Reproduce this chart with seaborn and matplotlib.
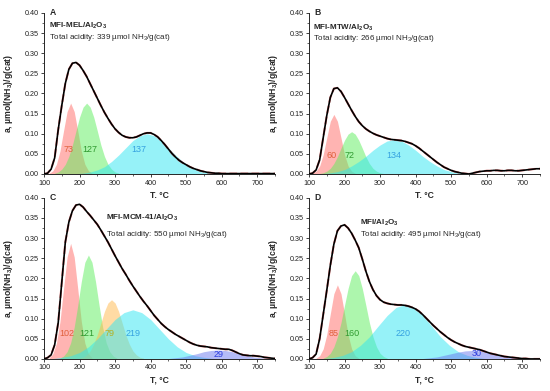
import numpy as np
import pandas as pd
import matplotlib
matplotlib.use('Agg')
import matplotlib.pyplot as plt
from matplotlib.ticker import AutoMinorLocator, FormatStrFormatter
import seaborn as sns

sns.set_style('ticks')
plt.rcParams['font.family'] = ['Liberation Sans', 'DejaVu Sans']
plt.rcParams['mathtext.fontset'] = 'custom'
plt.rcParams['mathtext.rm'] = 'Liberation Sans'
plt.rcParams['mathtext.bf'] = 'Liberation Sans:bold'

# temperature grid of the measured (total) curves, deg C
temps = list(range(100, 760, 10))

# ---- A: MFI-MEL/Al2O3
a_total = [0.000, 0.002, 0.012, 0.040, 0.110, 0.170, 0.225, 0.260, 0.275, 0.277,
           0.270, 0.257, 0.242, 0.224, 0.206, 0.188, 0.170, 0.153, 0.138, 0.124,
           0.112, 0.103, 0.096, 0.092, 0.090, 0.090, 0.092, 0.096, 0.100, 0.102,
           0.102, 0.098, 0.092, 0.083, 0.073, 0.062, 0.051, 0.042, 0.034, 0.028,
           0.023, 0.018, 0.014, 0.011, 0.008, 0.006, 0.004, 0.003, 0.002, 0.002,
           0.001, 0.001, 0.001, 0.001, 0.001, 0.001, 0.001, 0.001, 0.001, 0.001,
           0.001, 0.001, 0.001, 0.001, 0.001, 0.001]
a_p1_t = list(range(115, 245, 10))
a_p1 = [.002, .008, .024, .057, .107, .155, .176, .155, .107, .057, .024, .008, .002]
a_p2_t = list(range(130, 320, 10))
a_p2 = [.002, .005, .012, .024, .044, .072, .107, .141, .166, .176, .166, .141, .107,
        .072, .044, .024, .012, .005, .002]
a_p3_t = list(range(190, 600, 20))
a_p3 = [.001, .002, .005, .010, .018, .031, .047, .065, .083, .095, .100, .095, .083,
        .065, .047, .031, .018, .010, .005, .002, .001]
a_areas = [73, 127, 137]

# ---- B: MFI-MTW/Al2O3
b_total = [0.000, 0.002, 0.010, 0.035, 0.090, 0.145, 0.190, 0.212, 0.214, 0.205,
           0.190, 0.174, 0.158, 0.143, 0.130, 0.120, 0.112, 0.106, 0.101, 0.097,
           0.094, 0.091, 0.088, 0.086, 0.085, 0.084, 0.083, 0.081, 0.078, 0.075,
           0.070, 0.064, 0.057, 0.050, 0.043, 0.036, 0.029, 0.023, 0.017, 0.013,
           0.009, 0.006, 0.004, 0.002, 0.001, 0.000, 0.002, 0.004, 0.006, 0.007,
           0.008, 0.008, 0.009, 0.009, 0.008, 0.008, 0.009, 0.009, 0.008, 0.008,
           0.009, 0.010, 0.011, 0.012, 0.013, 0.013]
b_p1_t = list(range(110, 240, 10))
b_p1 = [.002, .007, .020, .048, .090, .131, .148, .131, .090, .048, .020, .007, .002]
b_p2_t = list(range(130, 320, 10))
b_p2 = [.001, .003, .007, .014, .026, .043, .064, .084, .099, .105, .099, .084, .064,
        .043, .026, .014, .007, .003, .001]
b_p3_t = list(range(120, 580, 20))
b_p3 = [.001, .001, .003, .006, .011, .020, .031, .044, .059, .072, .082, .085, .082,
        .072, .059, .044, .031, .020, .011, .006, .003, .001, .001]
b_areas = [60, 72, 134]

# ---- C: MFI-MCM-41/Al2O3
c_total = [0.000, 0.003, 0.010, 0.035, 0.090, 0.190, 0.290, 0.340, 0.368, 0.382,
           0.384, 0.377, 0.366, 0.356, 0.345, 0.334, 0.320, 0.305, 0.290, 0.273,
           0.256, 0.240, 0.224, 0.210, 0.195, 0.181, 0.168, 0.155, 0.143, 0.132,
           0.120, 0.108, 0.098, 0.088, 0.080, 0.073, 0.067, 0.061, 0.056, 0.051,
           0.046, 0.041, 0.037, 0.034, 0.032, 0.031, 0.030, 0.028, 0.027, 0.026,
           0.025, 0.024, 0.024, 0.021, 0.017, 0.013, 0.010, 0.009, 0.008, 0.008,
           0.007, 0.006, 0.004, 0.003, 0.002, 0.001]
c_p1_t = list(range(115, 245, 10))
c_p1 = [.003, .013, .039, .093, .174, .253, .287, .253, .174, .093, .039, .013, .003]
c_p2_t = list(range(145, 315, 10))
c_p2 = [.002, .007, .018, .040, .079, .133, .192, .240, .258, .240, .192, .133, .079,
        .040, .018, .007, .002]
c_p3_t = list(range(200, 390, 10))
c_p3 = [.002, .004, .010, .020, .037, .060, .089, .118, .139, .147, .139, .118, .089,
        .060, .037, .020, .010, .004, .002]
c_p4_t = list(range(125, 600, 25))
c_p4 = [.001, .004, .008, .016, .030, .050, .074, .098, .115, .122, .115, .098, .074,
        .050, .030, .016, .008, .004, .001]
c_p5_t = list(range(410, 770, 20))
c_p5 = [.000, .001, .001, .003, .005, .009, .013, .018, .021, .022, .021, .018, .013,
        .009, .005, .003, .001, .000]
c_areas = [102, 121, 79, 219, 29]

# ---- D: MFI/Al2O3
d_total = [0.000, 0.003, 0.012, 0.050, 0.110, 0.170, 0.232, 0.285, 0.318, 0.330,
           0.333, 0.325, 0.312, 0.295, 0.276, 0.248, 0.218, 0.192, 0.172, 0.157,
           0.147, 0.141, 0.138, 0.136, 0.135, 0.134, 0.134, 0.133, 0.131, 0.128,
           0.124, 0.118, 0.110, 0.101, 0.092, 0.083, 0.075, 0.067, 0.060, 0.053,
           0.047, 0.042, 0.038, 0.034, 0.031, 0.029, 0.027, 0.025, 0.023, 0.020,
           0.017, 0.014, 0.012, 0.010, 0.008, 0.006, 0.005, 0.004, 0.003, 0.002,
           0.001, 0.001, 0.000, 0.000, 0.000, 0.000]
d_p1_t = list(range(120, 250, 10))
d_p1 = [.002, .008, .025, .060, .112, .162, .184, .162, .112, .060, .025, .008, .002]
d_p2_t = list(range(140, 330, 10))
d_p2 = [.002, .006, .014, .030, .055, .090, .133, .175, .207, .219, .207, .175, .133,
        .090, .055, .030, .014, .006, .002]
d_p3_t = list(range(145, 620, 25))
d_p3 = [.001, .004, .009, .018, .034, .055, .082, .108, .128, .135, .128, .108, .082,
        .055, .034, .018, .009, .004, .001]
d_p4_t = list(range(380, 760, 20))
d_p4 = [.000, .001, .001, .003, .005, .009, .013, .017, .020, .021, .020, .017, .013,
        .009, .005, .003, .001, .001, .000]
d_areas = [85, 160, 220, 30]

names = [r"MFI-MEL/Al$_\mathbf{2}$O$_\mathbf{3}$", r"MFI-MTW/Al$_\mathbf{2}$O$_\mathbf{3}$",
         r"MFI-MCM-41/Al$_\mathbf{2}$O$_\mathbf{3}$", r"MFI/Al$_\mathbf{2}$O$_\mathbf{3}$"]
acidity = [339, 266, 550, 495]
letters = ['A', 'B', 'C', 'D']

fill = {'r': '#ff6a66', 'g': '#5cee5c', 'o': '#ffb84a', 'c': '#2ee6f2', 'b': '#6a78ee'}
txt = {'r': '#e0603c', 'g': '#2f9a2f', 'o': '#b4b020', 'c': '#35a2e0', 'b': '#2f3fe0'}

panels = [
    (a_total, [(a_p1_t, a_p1, 'r'), (a_p2_t, a_p2, 'g'), (a_p3_t, a_p3, 'c')], a_areas),
    (b_total, [(b_p1_t, b_p1, 'r'), (b_p2_t, b_p2, 'g'), (b_p3_t, b_p3, 'c')], b_areas),
    (c_total, [(c_p1_t, c_p1, 'r'), (c_p2_t, c_p2, 'g'), (c_p3_t, c_p3, 'o'),
               (c_p4_t, c_p4, 'c'), (c_p5_t, c_p5, 'b')], c_areas),
    (d_total, [(d_p1_t, d_p1, 'r'), (d_p2_t, d_p2, 'g'), (d_p3_t, d_p3, 'c'),
               (d_p4_t, d_p4, 'b')], d_areas),
]

# layout: axes boxes, label spots, title spots
boxes = [[0.08, 0.555, 0.42, 0.412], [0.5618, 0.555, 0.42, 0.412],
         [0.08, 0.082, 0.42, 0.412], [0.5618, 0.082, 0.42, 0.412]]
label_x = [[170, 228, 368], [164, 213, 340], [164, 220, 283, 352, 591], [168, 222, 366, 573]]
label_y = [[.062] * 3, [.045] * 3, [.064] * 4 + [.010], [.062] * 3 + [.014]]
title_pos = [(115, 0.368, 0.340), (112, 0.364, 0.336), (275, 0.350, 0.310), (244, 0.337, 0.308)]

fig = plt.figure(figsize=(5.5, 3.91), dpi=100)

for i, (total, peaks, areas) in enumerate(panels):
    ax = fig.add_axes(boxes[i])
    for (pt, pv, key), n, lx, ly in zip(peaks, areas, label_x[i], label_y[i]):
        ax.fill_between(pt, pv, 0, color=fill[key], alpha=0.5, lw=0, zorder=1)
        ax.text(lx, ly, str(n), color=txt[key], fontsize=6.5, ha='center', va='center', zorder=4)
    df = pd.DataFrame({'T': temps, 'a': total})
    sns.lineplot(data=df, x='T', y='a', ax=ax, color='#e04848', lw=1.5, ls='--',
                 alpha=0.7, zorder=2)
    sns.lineplot(data=df, x='T', y='a', ax=ax, color='black', lw=1.2, zorder=3)

    ax.set_xlim(100, 750)
    ax.set_ylim(0, 0.40)
    ax.set_xticks(range(100, 800, 100))
    ax.set_yticks(np.linspace(0, 0.40, 9))
    ax.yaxis.set_major_formatter(FormatStrFormatter('%.2f'))
    ax.xaxis.set_minor_locator(AutoMinorLocator(2))
    ax.yaxis.set_minor_locator(AutoMinorLocator(2))
    ax.tick_params(which='major', labelsize=5.2, length=2.5, width=0.6, pad=1.5, colors='#222222')
    ax.tick_params(which='minor', length=1.5, width=0.5)
    for s in ['top', 'right']:
        ax.spines[s].set_visible(False)
    for s in ['left', 'bottom']:
        ax.spines[s].set_linewidth(0.7)

    ax.set_ylabel(r"a, µmol(NH$_\mathbf{3}$)/g(cat)", fontsize=6.2, fontweight='bold')
    ax.yaxis.set_label_coords(-0.125, 0.5)
    ax.set_xlabel("T, °C", fontsize=6.2, fontweight='bold')
    ax.xaxis.set_label_coords(0.5, -0.1)

    tx, ty1, ty2 = title_pos[i]
    ax.text(115, 0.400, letters[i], fontsize=6.2, fontweight='bold', va='center')
    ax.text(tx, ty1, names[i], fontsize=5.8, fontweight='bold', va='center')
    ax.text(tx, ty2, "Total acidity: %d µmol NH$_3$/g(cat)" % acidity[i], fontsize=5.8, va='center')

fig.savefig('out.png', dpi=100)
